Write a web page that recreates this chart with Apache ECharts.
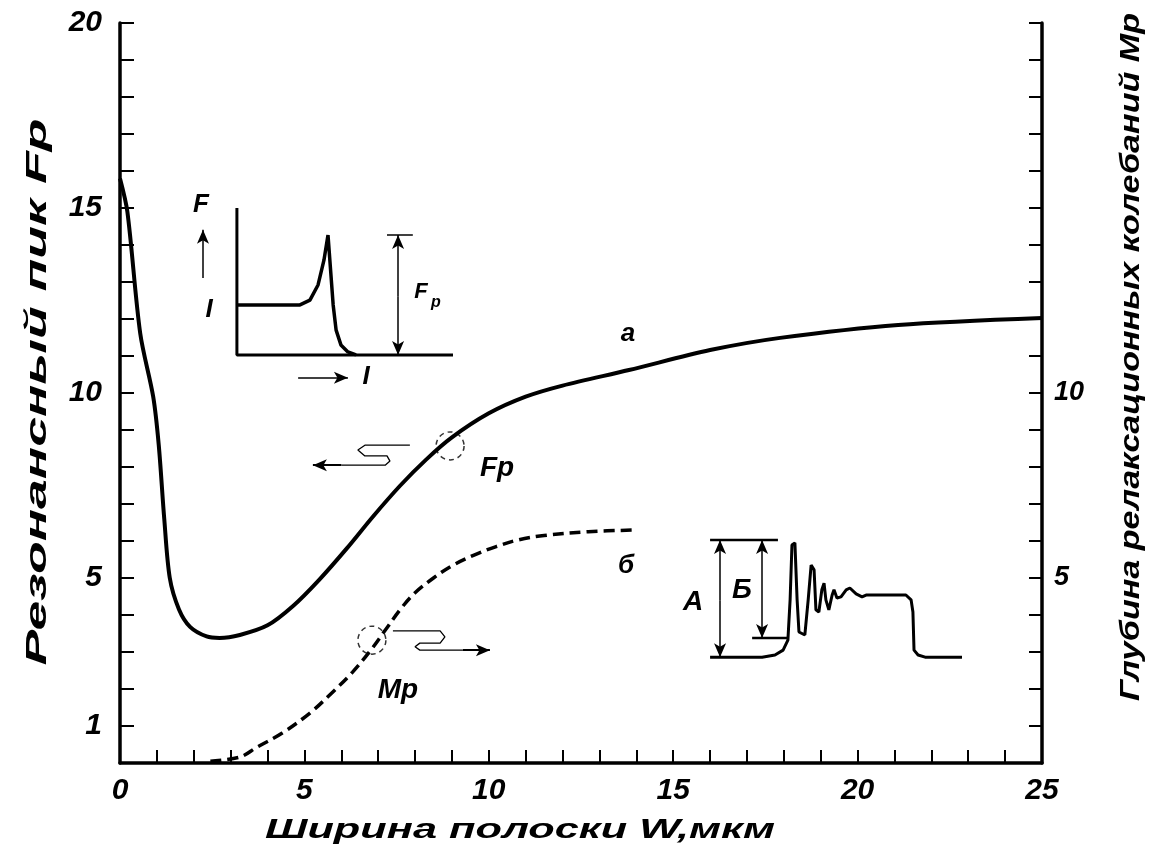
<!DOCTYPE html>
<html><head><meta charset="utf-8">
<script src="https://cdn.jsdelivr.net/npm/echarts@6/dist/echarts.min.js"></script>
<style>html,body{margin:0;padding:0;background:#fff}#c{width:1149px;height:851px}</style>
</head><body><div id="c"></div>
<script>
// ---- data (W in µm, values on the 0..20 scale shared by both y axes) ----
const xTickLabels = [0, 5, 10, 15, 20, 25];
const leftTickLabels = [1, 5, 10, 15, 20];
const rightTickLabels = [5, 10];

// curve "a": resonance peak Fp vs strip width W
const curveFp = [[0,15.8],[0.2,14.9],[0.55,11.6],[0.9,9.9],[1.05,8.6],[1.2,6.6],[1.35,5.0],[1.6,4.15],[1.9,3.68],[2.35,3.42],[2.7,3.38],[3.25,3.46],[4.0,3.72],[4.7,4.25],[5.4,4.95],[6.15,5.8],[6.85,6.65],[7.6,7.5],[8.3,8.2],[9.0,8.8],[10.0,9.45],[11.0,9.9],[12.0,10.2],[13.8,10.62],[16.0,11.16],[17.9,11.49],[21.1,11.84],[25,12.03]];
// curve "б": relaxation oscillation depth Mp vs W (right axis)
const curveMp = [[2.45,0.05],[3.25,0.16],[3.7,0.42],[4.4,0.81],[5.15,1.35],[5.75,1.9],[6.3,2.45],[6.8,3.05],[7.2,3.6],[7.6,4.15],[8.0,4.6],[8.5,5.0],[9.0,5.33],[9.6,5.62],[10.2,5.85],[10.8,6.03],[11.5,6.15],[12.7,6.25],[14.0,6.3]];

// inset 1 (F vs I sketch)
const inset1Axes = [[3.17,15.0],[3.17,11.03],[9.03,11.03]];
const inset1Curve = [[3.17,12.38],[4.88,12.38],[5.15,12.51],[5.37,12.92],[5.53,13.59],[5.64,14.27],[5.69,13.59],[5.78,12.38],[5.86,11.7],[5.99,11.3],[6.18,11.11],[6.4,11.03]];
const inset1FpCap = [[7.24,14.27],[7.94,14.27]];
const inset1Arrows = [[[7.54,12.6],[7.54,14.27]],[[7.54,12.6],[7.54,11.03]],[[2.25,13.11],[2.25,14.41]],[[4.83,10.41],[6.18,10.41]]];

// inset 2 (relaxation oscillation sketch)
const inset2Signal = [[16.0,2.86],[17.41,2.86],[17.76,2.92],[17.98,3.05],[18.11,3.32],[18.17,4.41],[18.22,5.89],[18.30,5.95],[18.36,4.41],[18.41,3.54],[18.57,3.46],[18.66,4.41],[18.74,5.35],[18.82,5.22],[18.87,4.14],[18.95,4.08],[19.03,4.68],[19.09,4.86],[19.14,4.41],[19.22,4.14],[19.31,4.54],[19.36,4.68],[19.44,4.46],[19.55,4.49],[19.69,4.68],[19.79,4.73],[19.96,4.57],[20.12,4.49],[20.23,4.54],[21.31,4.54],[21.45,4.41],[21.50,4.08],[21.53,3.05],[21.64,2.92],[21.83,2.86],[22.83,2.86]];
const inset2TopLine = [[16.0,6.03],[17.84,6.03]];
const inset2BLine = [[17.14,3.38],[18.09,3.38]];
const inset2Arrows = [[[16.27,4.4],[16.27,6.03]],[[16.27,4.4],[16.27,2.86]],[[17.41,4.7],[17.41,6.03]],[[17.41,4.7],[17.41,3.38]]];

// curve pointers
const pointerFp = [[7.86,8.59],[6.64,8.59],[6.45,8.46],[6.64,8.30],[7.24,8.30],[7.32,8.16],[7.19,8.05],[6.0,8.05]];
const pointerFpArrow = [[6.0,8.05],[5.23,8.05]];
const pointerMp = [[7.40,3.57],[8.68,3.57],[8.81,3.41],[8.68,3.24],[8.13,3.24],[8.0,3.14],[8.13,3.05],[9.3,3.05]];
const pointerMpArrow = [[9.3,3.05],[10.03,3.05]];
const markCircles = [[8.95,8.57],[6.83,3.32]];

// ---- chart ----
const FONT = '"Liberation Sans", Arial, sans-serif';
const chart = echarts.init(document.getElementById('c'), null, {renderer: 'canvas'});
const ctx = document.createElement('canvas').getContext('2d');
function fit(text, size, target) {
  ctx.font = `italic bold ${size}px ${FONT}`;
  return target / ctx.measureText(text).width;
}
function txt(text, x, y, size, extra) {
  return Object.assign({type: 'text', x: x, y: y, silent: true,
    style: {text: text, font: `italic bold ${size}px ${FONT}`, fill: '#000', align: 'center', verticalAlign: 'middle'}}, extra || {});
}
const axisFont = {fontFamily: FONT, fontStyle: 'italic', fontWeight: 'bold', fontSize: 30, color: '#000'};
function arrowLines(pairs, width) {
  return {silent: true, symbol: ['none', 'arrow'], symbolSize: [9, 14], label: {show: false},
    lineStyle: {color: '#000', width: width, type: 'solid'}, emphasis: {disabled: true},
    data: pairs.map(p => [{coord: p[0]}, {coord: p[1]}])};
}
function plain(name, data, width, extra) {
  return Object.assign({name: name, type: 'line', data: data, showSymbol: false, symbol: 'none', silent: true,
    lineStyle: {color: '#000', width: width}, z: 3}, extra || {});
}

const titleL = 'Резонансный пик Fp';
const titleR = 'Глубина релаксационных колебаний Mp';
const titleX = 'Ширина полоски W,мкм';

chart.setOption({
  animation: false,
  backgroundColor: '#fff',
  grid: {left: 120, right: 107, top: 23, bottom: 88},
  xAxis: {type: 'value', min: 0, max: 25, interval: 1,
    axisLine: {lineStyle: {color: '#000', width: 3.5}},
    axisTick: {inside: true, length: 13, lineStyle: {color: '#000', width: 2}},
    splitLine: {show: false},
    axisLabel: Object.assign({margin: 13, formatter: v => xTickLabels.includes(v) ? String(v) : ''}, axisFont)},
  yAxis: [
    {type: 'value', min: 0, max: 20, interval: 1, position: 'left',
      axisLine: {show: true, lineStyle: {color: '#000', width: 3.5}},
      axisTick: {show: true, inside: true, length: 14, lineStyle: {color: '#000', width: 2}},
      splitLine: {show: false},
      axisLabel: Object.assign({margin: 18, formatter: v => leftTickLabels.includes(v) ? String(v) : ''}, axisFont)},
    {type: 'value', min: 0, max: 20, interval: 1, position: 'right',
      axisLine: {show: true, lineStyle: {color: '#000', width: 3.5}},
      axisTick: {show: true, inside: true, length: 13, lineStyle: {color: '#000', width: 2}},
      splitLine: {show: false},
      axisLabel: Object.assign({margin: 12, formatter: v => rightTickLabels.includes(v) ? String(v) : ''}, axisFont, {fontSize: 27})}
  ],
  series: [
    plain('Fp', curveFp, 4, {smooth: 0.3, z: 5}),
    plain('Mp', curveMp, 3.5, {yAxisIndex: 1, smooth: 0.35, lineStyle: {color: '#000', width: 3.5, type: [11, 6]}, z: 5}),
    plain('inset1Axes', inset1Axes, 3),
    plain('inset1Curve', inset1Curve, 3.5, {markLine: arrowLines(inset1Arrows, 1.5)}),
    plain('inset1Cap', inset1FpCap, 1.5),
    plain('inset2Signal', inset2Signal, 3, {markLine: arrowLines(inset2Arrows, 1.5)}),
    plain('inset2Top', inset2TopLine, 2.5),
    plain('inset2B', inset2BLine, 2.5),
    plain('pointerFp', pointerFp, 1.3, {markLine: arrowLines([pointerFpArrow], 2)}),
    plain('pointerMp', pointerMp, 1.3, {markLine: arrowLines([pointerMpArrow], 2)}),
    {name: 'circles', type: 'scatter', data: markCircles, symbol: 'circle', symbolSize: 28, silent: true, z: 4,
      itemStyle: {color: 'rgba(0,0,0,0)', borderColor: '#000', borderWidth: 1.5, borderType: [5, 4]}}
  ],
  graphic: [
    txt(titleL, 38, 392, 29, {rotation: Math.PI / 2, scaleX: fit(titleL, 29, 547)}),
    txt(titleR, 1131, 357, 28, {rotation: Math.PI / 2, scaleX: fit(titleR, 28, 688)}),
    txt(titleX, 520, 830, 28, {scaleX: fit(titleX, 28, 510)}),
    txt('а', 628, 334, 26),
    txt('б', 626, 566, 26),
    txt('Fp', 497, 468, 28),
    txt('Mp', 398, 690, 28),
    txt('A', 693, 602, 28),
    txt('Б', 742, 590, 28),
    txt('F', 201, 205, 26),
    txt('I', 209, 310, 26),
    txt('I', 366, 377, 26),
    txt('F', 421, 292, 22),
    txt('p', 436, 303, 16)
  ]
});
</script></body></html>
